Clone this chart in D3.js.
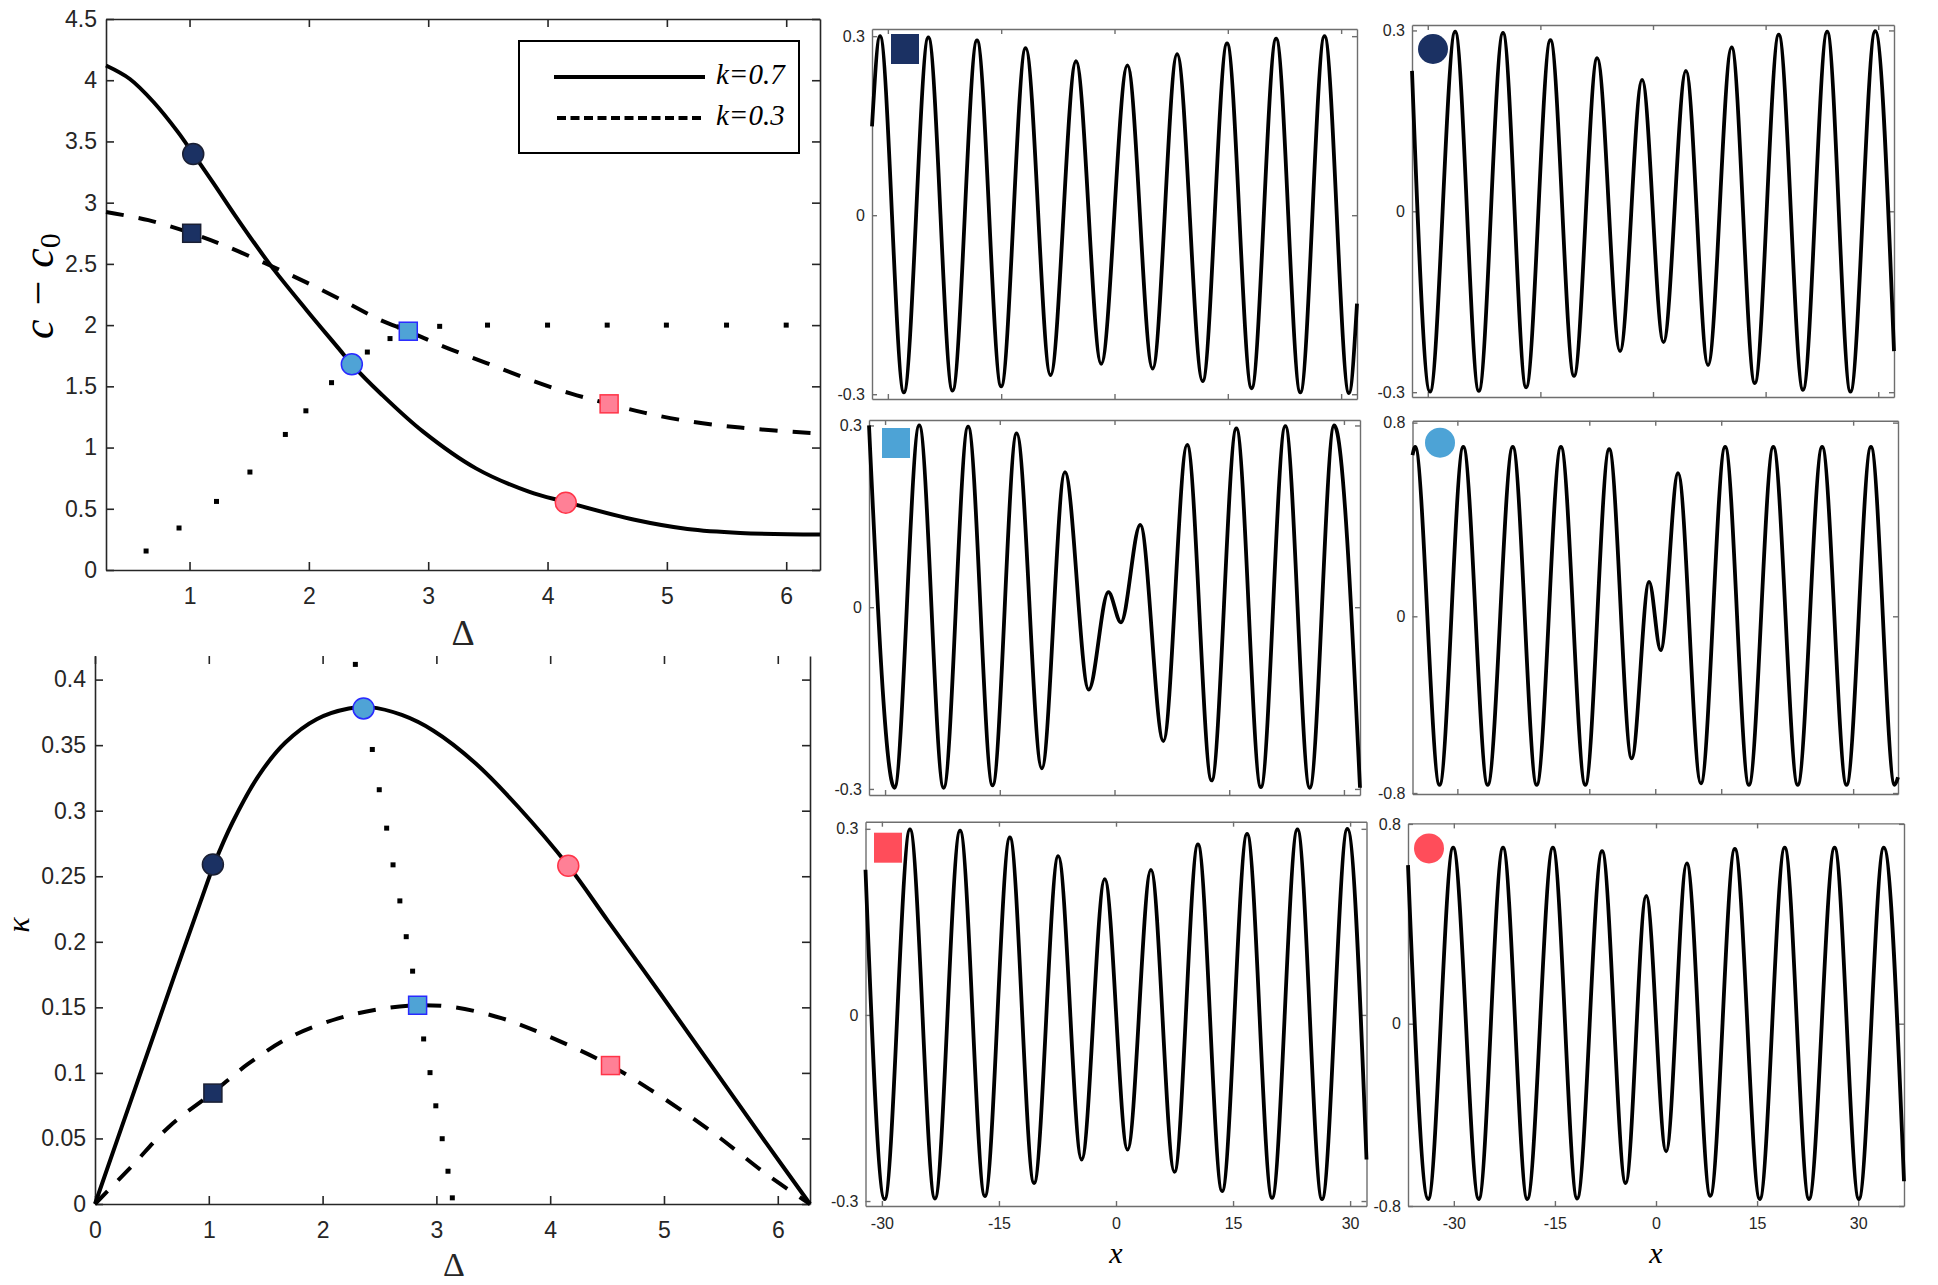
<!DOCTYPE html>
<html lang="en">
<head>
<meta charset="UTF-8">
<title>Dispersion curves and wave profiles</title>
<script src="https://d3js.org/d3.v7.min.js"></script>
<style>
  body { margin: 0; background: #fff; }
  svg { display: block; }
  .tick text { font-family: "Liberation Sans", Arial, Helvetica, sans-serif; }
  .math { font-family: "Liberation Serif", "Times New Roman", serif; font-style: italic; fill: #000; }
  .upright { font-family: "Liberation Serif", "Times New Roman", serif; fill: #262626; }
</style>
</head>
<body>
<svg id="fig" width="1938" height="1285"></svg>
<script>
// ---------- values ----------

// top left: c - c0 against Delta
const deltaSolidTop = [0.30, 0.5, 0.7, 0.9, 1.03, 1.2, 1.4, 1.67, 1.983, 2.249, 2.36, 2.603, 2.957, 3.4, 3.843, 4.153, 4.729, 5.172, 5.615, 6.283];
const cSolidTop     = [4.12, 4.01, 3.82, 3.58, 3.40, 3.16, 2.87, 2.50, 2.12, 1.81, 1.68, 1.44, 1.13, 0.83, 0.64, 0.555, 0.41, 0.335, 0.303, 0.29];
const deltaDashTop  = [0.30, 0.655, 1.018, 1.275, 1.629, 1.983, 2.337, 2.603, 2.833, 3.135, 3.489, 3.843, 4.198, 4.516, 4.817, 5.172, 5.615, 6.283];
const cDashTop      = [2.923, 2.857, 2.75, 2.657, 2.507, 2.347, 2.173, 2.04, 1.95, 1.823, 1.69, 1.557, 1.44, 1.357, 1.283, 1.217, 1.163, 1.113];
const deltaDotTop   = [0.636, 0.912, 1.226, 1.506, 1.803, 1.975, 2.19, 2.49, 2.68, 2.76, 3.096, 3.497, 4.0, 4.5, 4.996, 5.5, 6.0];
const cDotTop       = [0.155, 0.343, 0.56, 0.80, 1.107, 1.30, 1.53, 1.78, 1.89, 1.985, 1.99, 2.0, 2.0, 2.0, 2.0, 2.0, 2.0];
const circleDeltaTop = [1.031, 2.36, 4.153];
const circleCTop     = [3.397, 1.68, 0.55];
const squareDeltaTop = [1.018, 2.833, 4.516];
const squareCTop     = [2.75, 1.95, 1.357];

// bottom left: kappa against Delta
const deltaSolidBot = [0, 0.232, 0.465, 0.697, 0.929, 1.046, 1.208, 1.44, 1.673, 1.952, 2.23, 2.417, 2.696, 2.974, 3.346, 3.718, 4.159, 4.507, 4.972, 5.437, 5.902, 6.283];
const kSolidBot     = [0, 0.058, 0.116, 0.174, 0.231, 0.259, 0.291, 0.327, 0.352, 0.370, 0.378, 0.379, 0.373, 0.361, 0.336, 0.303, 0.258, 0.216, 0.160, 0.103, 0.046, 0];
const deltaDashBot  = [0, 0.325, 0.651, 1.036, 1.348, 1.719, 2.138, 2.51, 2.835, 3.16, 3.578, 3.996, 4.53, 4.972, 5.437, 5.902, 6.283];
const kDashBot      = [0, 0.029, 0.059, 0.085, 0.107, 0.1275, 0.1416, 0.1488, 0.1516, 0.150, 0.1416, 0.1275, 0.1056, 0.082, 0.054, 0.0226, 0];
const deltaDotBot   = [2.288, 2.437, 2.498, 2.563, 2.619, 2.679, 2.735, 2.791, 2.888, 2.944, 2.995, 3.051, 3.102, 3.14];
const kDotBot       = [0.4116, 0.3467, 0.316, 0.2867, 0.2587, 0.2312, 0.2039, 0.1776, 0.1259, 0.1002, 0.0749, 0.0498, 0.025, 0.0047];
const circleDeltaBot = [1.036, 2.36, 4.159];
const circleKBot     = [0.259, 0.378, 0.258];
const squareDeltaBot = [1.036, 2.835, 4.53];
const squareKBot     = [0.0846, 0.1516, 0.1056];

// tick values / labels
const ticksDeltaTop = [1, 2, 3, 4, 5, 6];
const ticksCTop     = [0, 0.5, 1, 1.5, 2, 2.5, 3, 3.5, 4, 4.5];
const ticksDeltaBot = [0, 1, 2, 3, 4, 5, 6];
const ticksKBot     = [0, 0.05, 0.1, 0.15, 0.2, 0.25, 0.3, 0.35, 0.4];
const ticksX15      = [-30, -15, 0, 15, 30];
const ticksX10      = [-30, -10, 0, 10, 30];
const labelsX       = ["-30", "-15", "0", "15", "30"];
const ticksSmall    = [-0.3, 0, 0.3];
const labelsSmall   = ["-0.3", "0", "0.3"];
const ticksLarge    = [-0.73, 0, 0.8];
const labelsLarge   = ["-0.8", "0", "0.8"];
const legendLabels  = ["k=0.7", "k=0.3"];

// wave profiles: the extrema (plus both ends) of each trace
const xNavySq = [-32.1, -31.04, -27.88, -24.64, -21.44, -18.2, -15.0, -11.76, -8.47, -5.09, -1.76, 1.71, 5.05, 8.29, 11.67, 14.9, 18.15, 21.4, 24.6, 27.8, 31.04, 32.1];
const yNavySq = [0.149, 0.30, -0.297, 0.298, -0.294, 0.293, -0.287, 0.280, -0.268, 0.258, -0.249, 0.251, -0.257, 0.270, -0.278, 0.288, -0.29, 0.296, -0.297, 0.30, -0.298, -0.148];
const xBlueSq = [-32.1, -28.77, -25.53, -22.34, -19.14, -15.94, -12.79, -9.5, -6.48, -3.37, -0.8, 0.84, 3.37, 6.39, 9.5, 12.7, 15.94, 19.14, 22.34, 25.53, 28.73, 32.1];
const yBlueSq = [0.30, -0.298, 0.300, -0.298, 0.298, -0.294, 0.287, -0.266, 0.223, -0.136, 0.025, -0.025, 0.136, -0.221, 0.268, -0.286, 0.295, -0.297, 0.299, -0.298, 0.300, -0.298];
const xPinkSq = [-32.1, -29.65, -26.4, -23.2, -19.98, -16.8, -13.6, -10.5, -7.4, -4.4, -1.44, 1.48, 4.48, 7.49, 10.5, 13.6, 16.8, 20.0, 23.25, 26.4, 29.65, 32.1];
const yPinkSq = [0.234, -0.297, 0.299, -0.296, 0.297, -0.292, 0.286, -0.271, 0.256, -0.233, 0.219, -0.217, 0.234, -0.253, 0.275, -0.284, 0.292, -0.295, 0.299, -0.297, 0.30, -0.233];
const xNavyCi = [-32.1, -29.7, -26.35, -23.2, -19.98, -16.9, -13.66, -10.52, -7.43, -4.39, -1.45, 1.40, 4.39, 7.33, 10.47, 13.56, 16.75, 19.98, 23.2, 26.3, 29.6, 32.1];
const yNavyCi = [0.233, -0.299, 0.298, -0.298, 0.296, -0.292, 0.284, -0.273, 0.254, -0.232, 0.218, -0.217, 0.233, -0.255, 0.272, -0.285, 0.293, -0.296, 0.298, -0.299, 0.299, -0.232];
const xBlueCi = [-36.8, -36.4, -32.7, -29.1, -25.4, -21.6, -17.97, -14.3, -10.6, -6.98, -3.57, -0.93, 0.82, 3.46, 6.92, 10.6, 14.2, 17.9, 21.6, 25.3, 29.0, 32.7, 36.3, 36.8];
const yBlueCi = [0.666, 0.70, -0.696, 0.70, -0.696, 0.70, -0.696, 0.70, -0.696, 0.69, -0.587, 0.142, -0.140, 0.591, -0.69, 0.70, -0.696, 0.70, -0.696, 0.70, -0.696, 0.70, -0.696, -0.665];
const xPinkCi = [-36.8, -33.8, -30.1, -26.3, -22.7, -19.1, -15.3, -11.7, -8.0, -4.5, -1.45, 1.5, 4.57, 8.06, 11.7, 15.4, 19.1, 22.7, 26.5, 30.1, 33.8, 36.8];
const yPinkCi = [0.635, -0.702, 0.705, -0.702, 0.705, -0.702, 0.705, -0.70, 0.691, -0.638, 0.512, -0.511, 0.642, -0.689, 0.70, -0.702, 0.705, -0.702, 0.705, -0.702, 0.705, -0.631];

// marker colours: navy, light blue, pink
const fillLeft   = ["#1B3163", "#4FA3D6", "#FF8096"];
const strokeLeft = ["#1a1f33", "#2a2aff", "#ff3448"];
const fillRight  = ["#1B3163", "#4DA3D6", "#FF4D5A"];

// ---------- drawing ----------
const svg = d3.select("#fig");
const zip = (a, b) => a.map((v, i) => [v, b[i]]);

function frame(g, x, y, o) {
  const [x0, x1] = x.range(), [y0, y1] = y.range();
  const fx = o.xLabels ? (d, i) => o.xLabels[i] : (o.xFmt || (() => ""));
  const fy = o.yLabels ? (d, i) => o.yLabels[i] : (o.yFmt || (() => ""));
  g.append("g").attr("transform", `translate(0,${y0})`)
    .call(d3.axisBottom(x).tickValues(o.xTicks).tickSizeInner(-o.tick).tickSizeOuter(0).tickPadding(o.xPad).tickFormat(fx));
  g.append("g").attr("transform", `translate(${x0},0)`)
    .call(d3.axisLeft(y).tickValues(o.yTicks).tickSizeInner(-o.tick).tickSizeOuter(0).tickPadding(o.yPad).tickFormat(fy));
  const top = g.append("g").attr("transform", `translate(0,${y1})`)
    .call(d3.axisTop(x).tickValues(o.xTicks).tickSizeInner(-o.tick).tickSizeOuter(0).tickFormat(""));
  if (o.noTopLine) top.select(".domain").remove();
  g.append("g").attr("transform", `translate(${x1},0)`)
    .call(d3.axisRight(y).tickValues(o.yTicks).tickSizeInner(-o.tick).tickSizeOuter(0).tickFormat(""));
  g.selectAll(".domain, .tick line").attr("stroke", o.stroke).attr("stroke-width", o.sw);
  g.selectAll(".tick text").attr("font-size", o.font).attr("fill", "#262626");
}

function drawLine(g, pts, x, y, curve, dash, w) {
  g.append("path")
    .attr("d", d3.line().x(d => x(d[0])).y(d => y(d[1])).curve(curve)(pts))
    .attr("fill", "none").attr("stroke", "#000").attr("stroke-width", w)
    .attr("stroke-dasharray", dash).attr("stroke-linejoin", "round");
}

function dots(g, pts, x, y) {
  g.selectAll(null).data(pts).enter().append("rect")
    .attr("x", d => x(d[0]) - 2.5).attr("y", d => y(d[1]) - 2.5)
    .attr("width", 5).attr("height", 5).attr("fill", "#000");
}

function markers(g, cx, cy, sx, sy, x, y) {
  g.selectAll(null).data(zip(sx, sy)).enter().append("rect")
    .attr("x", d => x(d[0]) - 9).attr("y", d => y(d[1]) - 9)
    .attr("width", 18).attr("height", 18)
    .attr("fill", (d, i) => fillLeft[i]).attr("stroke", (d, i) => strokeLeft[i]).attr("stroke-width", 1.5);
  g.selectAll(null).data(zip(cx, cy)).enter().append("circle")
    .attr("cx", d => x(d[0])).attr("cy", d => y(d[1])).attr("r", 10.5)
    .attr("fill", (d, i) => fillLeft[i]).attr("stroke", (d, i) => strokeLeft[i]).attr("stroke-width", 1.5);
}

const smooth = d3.curveCatmullRom.alpha(0.5);

// ----- top left panel -----
{
  const x = d3.scaleLinear([0.3, 2 * Math.PI], [106, 820]);
  const y = d3.scaleLinear([0, 4.5], [570, 19]);
  const g = svg.append("g");
  frame(g, x, y, { xTicks: ticksDeltaTop, yTicks: ticksCTop, xFmt: d => d, yFmt: d => d,
    tick: 8, xPad: 18, yPad: 9, stroke: "#262626", sw: 1.6, font: 23 });
  dots(g, zip(deltaDotTop, cDotTop), x, y);
  drawLine(g, zip(deltaDashTop, cDashTop), x, y, smooth, "18,15", 4);
  drawLine(g, zip(deltaSolidTop, cSolidTop), x, y, smooth, null, 4);
  markers(g, circleDeltaTop, circleCTop, squareDeltaTop, squareCTop, x, y);

  // legend
  const lg = g.append("g");
  lg.append("rect").attr("x", 519).attr("y", 41).attr("width", 280).attr("height", 112)
    .attr("fill", "#fff").attr("stroke", "#000").attr("stroke-width", 2);
  lg.append("line").attr("x1", 554).attr("x2", 705).attr("y1", 77).attr("y2", 77)
    .attr("stroke", "#000").attr("stroke-width", 4);
  lg.append("line").attr("x1", 557).attr("x2", 701).attr("y1", 118).attr("y2", 118)
    .attr("stroke", "#000").attr("stroke-width", 4).attr("stroke-dasharray", "9,4.5");
  lg.selectAll(null).data(legendLabels).enter().append("text")
    .attr("class", "math").attr("x", 716).attr("y", (d, i) => 84 + i * 41)
    .attr("font-size", 29).text(d => d);

  // axis labels
  svg.append("text").attr("class", "upright").attr("x", 463).attr("y", 645)
    .attr("text-anchor", "middle").attr("font-size", 36).text("Δ");
  const yl = svg.append("text").attr("class", "math").attr("fill", "#262626")
    .attr("transform", "translate(53,286) rotate(-90)").attr("text-anchor", "middle").attr("font-size", 44);
  yl.append("tspan").text("c − c");
  yl.append("tspan").attr("font-size", 30).attr("font-style", "normal").attr("dy", 7).text("0");
}

// ----- bottom left panel -----
{
  const x = d3.scaleLinear([0, 2 * Math.PI], [95, 810]);
  const y = d3.scaleLinear([0, 0.418], [1204, 656]);
  const g = svg.append("g");
  frame(g, x, y, { xTicks: ticksDeltaBot, yTicks: ticksKBot, xFmt: d => d, yFmt: d => d,
    tick: 8, xPad: 18, yPad: 9, stroke: "#262626", sw: 1.6, font: 23, noTopLine: true });
  dots(g, zip(deltaDotBot, kDotBot), x, y);
  drawLine(g, zip(deltaDashBot, kDashBot), x, y, smooth, "18,15", 4);
  drawLine(g, zip(deltaSolidBot, kSolidBot), x, y, smooth, null, 4);
  markers(g, circleDeltaBot, circleKBot, squareDeltaBot, squareKBot, x, y);

  svg.append("text").attr("class", "upright").attr("x", 454).attr("y", 1276)
    .attr("text-anchor", "middle").attr("font-size", 34).text("Δ");
  svg.append("text").attr("class", "math").attr("fill", "#262626")
    .attr("transform", "translate(29,925) rotate(-90)").attr("text-anchor", "middle")
    .attr("font-size", 32).text("κ");
}

// ----- six wave panels -----
const panels = [
  { xs: xNavySq, ys: yNavySq, box: [872, 1357, 29, 399],      xd: [-32.1, 32.1], yd: [-0.308, 0.312], xt: ticksX15, yt: ticksSmall, yl: labelsSmall, shape: "square", c: 0, m: [33, 20] },
  { xs: xBlueSq, ys: yBlueSq, box: [869, 1360, 420, 795],     xd: [-32.1, 32.1], yd: [-0.31, 0.309],  xt: ticksX15, yt: ticksSmall, yl: labelsSmall, shape: "square", c: 1, m: [27, 23] },
  { xs: xPinkSq, ys: yPinkSq, box: [865.5, 1366.5, 821.7, 1206], xd: [-32.1, 32.1], yd: [-0.308, 0.3115], xt: ticksX15, yt: ticksSmall, yl: labelsSmall, shape: "square", c: 2, m: [22.5, 26], xl: labelsX },
  { xs: xNavyCi, ys: yNavyCi, box: [1412, 1894, 25, 397],     xd: [-32.1, 32.1], yd: [-0.308, 0.309], xt: ticksX15, yt: ticksSmall, yl: labelsSmall, shape: "circle", c: 0, m: [21, 24] },
  { xs: xBlueCi, ys: yBlueCi, box: [1412.5, 1898, 420.7, 794], xd: [-36.8, 36.8], yd: [-0.734, 0.808], xt: ticksX10, yt: ticksLarge, yl: labelsLarge, shape: "circle", c: 1, m: [27.5, 22] },
  { xs: xPinkCi, ys: yPinkCi, box: [1408, 1904, 823.4, 1206], xd: [-36.8, 36.8], yd: [-0.73, 0.802],  xt: ticksX15, yt: ticksLarge, yl: labelsLarge, shape: "circle", c: 2, m: [21, 25], xl: labelsX }
];

panels.forEach(p => {
  const [l, r, t, b] = p.box;
  const x = d3.scaleLinear(p.xd, [l, r]);
  const y = d3.scaleLinear(p.yd, [b, t]);
  const g = svg.append("g");
  frame(g, x, y, { xTicks: p.xt, yTicks: p.yt, xLabels: p.xl, yLabels: p.yl,
    tick: 5, xPad: 12, yPad: 7, stroke: "#6e6e6e", sw: 1.4, font: 16 });
  drawLine(g, zip(p.xs, p.ys), x, y, d3.curveMonotoneX, null, 3.8);
  if (p.shape === "square") {
    g.append("rect").attr("x", l + p.m[0] - 14).attr("y", t + p.m[1] - 15)
      .attr("width", 28).attr("height", 30).attr("fill", fillRight[p.c]);
  } else {
    g.append("circle").attr("cx", l + p.m[0]).attr("cy", t + p.m[1]).attr("r", 15)
      .attr("fill", fillRight[p.c]);
  }
  if (p.xl) {
    svg.append("text").attr("class", "math").attr("x", (l + r) / 2).attr("y", 1263)
      .attr("text-anchor", "middle").attr("font-size", 30).attr("fill", "#262626").text("x");
  }
});
</script>
</body>
</html>
